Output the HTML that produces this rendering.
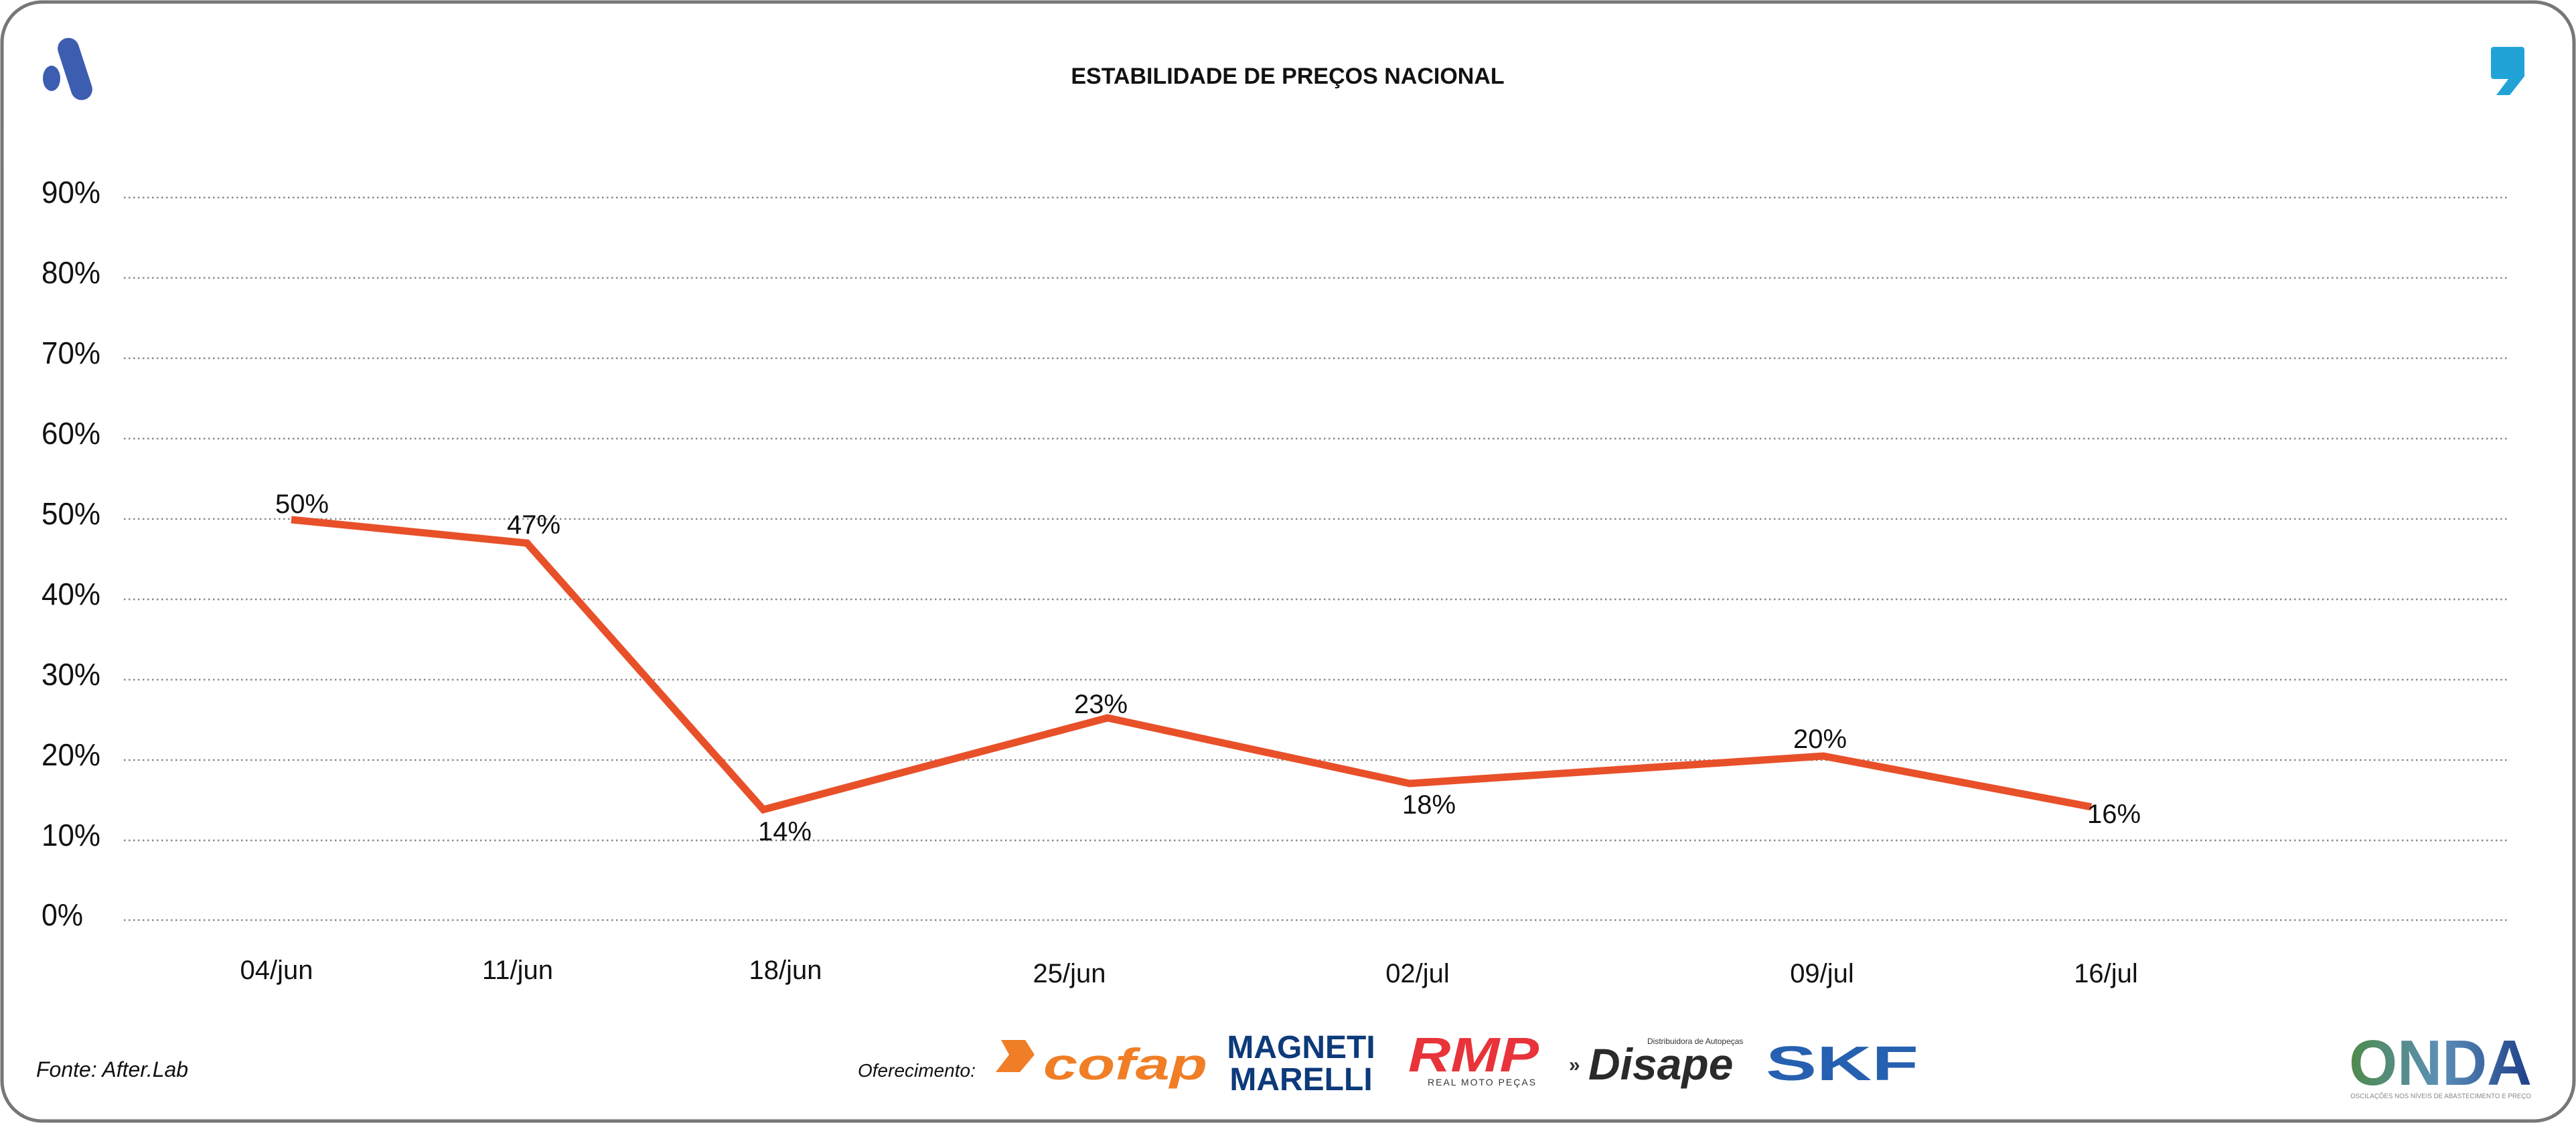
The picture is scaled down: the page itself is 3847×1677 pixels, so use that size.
<!DOCTYPE html>
<html><head><meta charset="utf-8"><style>
html,body{margin:0;padding:0;background:#fff;}
svg{display:block;}
.t{font-family:"Liberation Sans Narrow","Liberation Sans",sans-serif;fill:#111;}
</style></head><body>
<svg width="3847" height="1677" viewBox="0 0 3847 1677" xmlns="http://www.w3.org/2000/svg">
<rect x="3" y="3" width="3841" height="1671" rx="60" ry="60" fill="#fff" stroke="#777" stroke-width="5"/>
<g fill="#3d5db0">
<rect x="-16" y="-48" width="32" height="96" rx="16" transform="translate(112,103) rotate(-18)"/>
<ellipse cx="77" cy="117" rx="13" ry="19"/>
</g>
<path d="M3722 70 h44 a4 4 0 0 1 4 4 v40 l-22 28 h-20 l18 -24 h-22 a4 4 0 0 1 -4 -4 v-40 a4 4 0 0 1 4 -4z" fill="#22a3d8"/>
<text x="1923" y="125" text-anchor="middle" font-family="Liberation Sans, sans-serif" font-weight="bold" font-size="34" fill="#111">ESTABILIDADE DE PREÇOS NACIONAL</text>
<g stroke="#888" stroke-width="2.5" stroke-dasharray="2.5 4.5">
<line x1="185" y1="295" x2="3746" y2="295"/>
<line x1="185" y1="415" x2="3746" y2="415"/>
<line x1="185" y1="535" x2="3746" y2="535"/>
<line x1="185" y1="655" x2="3746" y2="655"/>
<line x1="185" y1="775" x2="3746" y2="775"/>
<line x1="185" y1="895" x2="3746" y2="895"/>
<line x1="185" y1="1015" x2="3746" y2="1015"/>
<line x1="185" y1="1135" x2="3746" y2="1135"/>
<line x1="185" y1="1255" x2="3746" y2="1255"/>
<line x1="185" y1="1374" x2="3746" y2="1374"/>
</g>
<g class="t" font-size="46">
<text x="62" y="303" textLength="88" lengthAdjust="spacingAndGlyphs">90%</text>
<text x="62" y="423" textLength="88" lengthAdjust="spacingAndGlyphs">80%</text>
<text x="62" y="543" textLength="88" lengthAdjust="spacingAndGlyphs">70%</text>
<text x="62" y="663" textLength="88" lengthAdjust="spacingAndGlyphs">60%</text>
<text x="62" y="783" textLength="88" lengthAdjust="spacingAndGlyphs">50%</text>
<text x="62" y="903" textLength="88" lengthAdjust="spacingAndGlyphs">40%</text>
<text x="62" y="1023" textLength="88" lengthAdjust="spacingAndGlyphs">30%</text>
<text x="62" y="1143" textLength="88" lengthAdjust="spacingAndGlyphs">20%</text>
<text x="62" y="1263" textLength="88" lengthAdjust="spacingAndGlyphs">10%</text>
<text x="62" y="1382" textLength="62" lengthAdjust="spacingAndGlyphs">0%</text>
</g>
<polyline points="435,776 787,811 1140,1209 1654,1072 2105,1170 2723,1129 3123,1205" fill="none" stroke="#e8502a" stroke-width="11" stroke-linejoin="miter"/>
<g class="t" font-size="40" text-anchor="middle">
<text x="451" y="766">50%</text>
<text x="797" y="797">47%</text>
<text x="1172" y="1255">14%</text>
<text x="1644" y="1065">23%</text>
<text x="2134" y="1215">18%</text>
<text x="2718" y="1117">20%</text>
<text x="3157" y="1229">16%</text>
</g>
<g class="t" font-size="40" text-anchor="middle">
<text x="413" y="1462">04/jun</text>
<text x="773" y="1462">11/jun</text>
<text x="1173" y="1462">18/jun</text>
<text x="1597" y="1467">25/jun</text>
<text x="2117" y="1467">02/jul</text>
<text x="2721" y="1467">09/jul</text>
<text x="3145" y="1467">16/jul</text>
</g>
<text x="54" y="1608" font-family="Liberation Sans, sans-serif" font-style="italic" font-size="32" fill="#111">Fonte: After.Lab</text>
<text x="1281" y="1608" font-family="Liberation Sans, sans-serif" font-style="italic" font-size="28" fill="#111">Oferecimento:</text>
<path d="M1495 1553 h36 l14 22 l-22 26 h-36 l20 -26z" fill="#f07e26"/>
<text x="1558" y="1612" textLength="245" lengthAdjust="spacingAndGlyphs" font-family="Liberation Sans, sans-serif" font-weight="bold" font-style="italic" font-size="66" fill="#f07e26">cofap</text>
<text x="1943" y="1580" text-anchor="middle" font-family="Liberation Sans, sans-serif" font-weight="bold" font-size="48" fill="#0d3a7a">MAGNETI</text>
<text x="1943" y="1628" text-anchor="middle" font-family="Liberation Sans, sans-serif" font-weight="bold" font-size="48" fill="#0d3a7a">MARELLI</text>
<text x="2103" y="1600" textLength="195" lengthAdjust="spacingAndGlyphs" font-family="Liberation Sans, sans-serif" font-weight="bold" font-style="italic" font-size="72" fill="#e8333a">RMP</text>
<text x="2132" y="1621" font-family="Liberation Sans, sans-serif" font-size="14" fill="#333" letter-spacing="2">REAL MOTO PEÇAS</text>
<text x="2343" y="1600" font-family="Liberation Sans, sans-serif" font-weight="bold" font-size="30" fill="#333">»</text>
<text x="2372" y="1612" font-family="Liberation Sans, sans-serif" font-weight="bold" font-style="italic" font-size="66" fill="#2a2a2a">Disape</text>
<text x="2460" y="1559" font-family="Liberation Sans, sans-serif" font-size="12" fill="#333">Distribuidora de Autopeças</text>
<text x="2637" y="1613" textLength="228" lengthAdjust="spacingAndGlyphs" font-family="Liberation Sans, sans-serif" font-weight="bold" font-size="72" fill="#2660b0">SKF</text>
<defs><linearGradient id="og" x1="0" x2="1" y1="0" y2="0"><stop offset="0" stop-color="#4f8a4a"/><stop offset="0.5" stop-color="#5b8fb8"/><stop offset="1" stop-color="#1f3f8a"/></linearGradient></defs>
<text x="3508" y="1620" textLength="273" lengthAdjust="spacingAndGlyphs" font-family="Liberation Sans, sans-serif" font-weight="bold" font-size="96" fill="url(#og)">ONDA</text>
<text x="3510" y="1640" textLength="270" lengthAdjust="spacingAndGlyphs" font-family="Liberation Sans, sans-serif" font-size="10" fill="#888">OSCILAÇÕES NOS NÍVEIS DE ABASTECIMENTO E PREÇO</text>
</svg>
</body></html>
